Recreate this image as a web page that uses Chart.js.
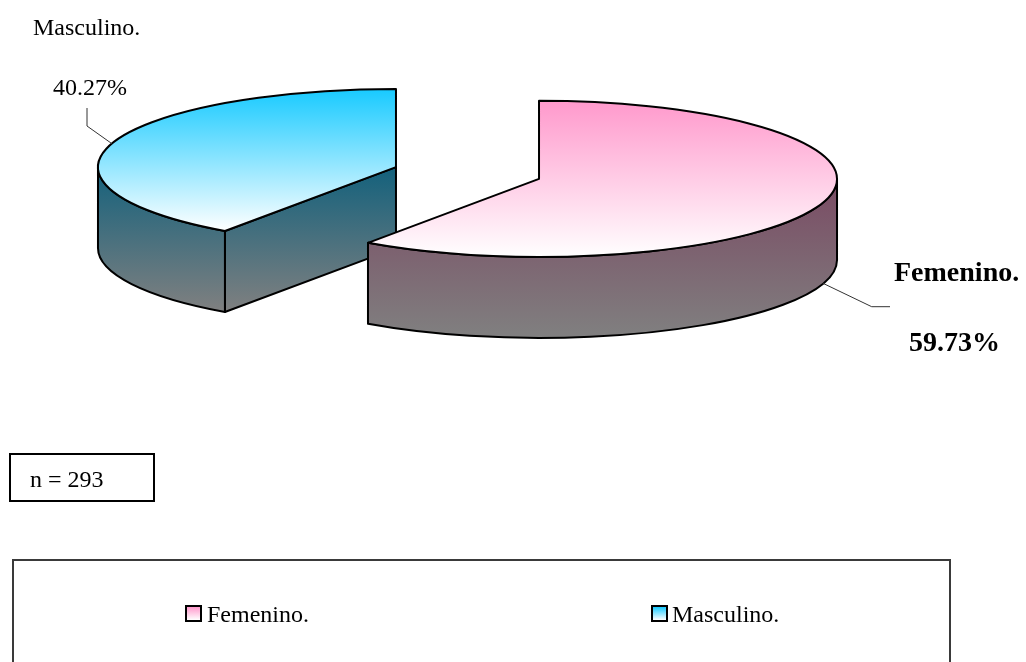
<!DOCTYPE html>
<html>
<head>
<meta charset="utf-8">
<script src="https://cdn.jsdelivr.net/npm/chart.js@4.4.1/dist/chart.umd.min.js"></script>
<style>
html,body{margin:0;padding:0;background:#fff;overflow:hidden;}
#wrap{position:relative;width:1026px;height:662px;overflow:hidden;font-family:"Liberation Serif","Times New Roman",serif;color:#000;}
#c{position:absolute;left:0;top:0;}
.t{position:absolute;white-space:nowrap;line-height:1;}
.b{font-weight:bold;}
#nbox{position:absolute;left:9px;top:453px;width:146px;height:49px;border:2px solid #000;box-sizing:border-box;}
#legbox{position:absolute;left:12px;top:559px;width:939px;height:130px;border:2px solid #3a3a3a;box-sizing:border-box;}
.mk{position:absolute;width:17px;height:17px;border:2px solid #000;box-sizing:border-box;}
</style>
</head>
<body>
<div id="wrap">
  <canvas id="c" width="1026" height="662"></canvas>
  <div class="t" id="title" style="left:33px;top:15px;font-size:24px;"></div>
  <div class="t" id="lblM" style="left:53px;top:75.4px;font-size:24px;"></div>
  <div class="t b" id="lblFname" style="left:894px;top:258px;font-size:28px;"></div>
  <div class="t b" id="lblFpct" style="left:909px;top:328px;font-size:28px;"></div>
  <div id="nbox"></div>
  <div class="t" id="ntext" style="left:30px;top:467.2px;font-size:24px;"></div>
  <div id="legbox"></div>
  <div class="mk" id="mk0" style="left:185px;top:605px;"></div>
  <div class="t" id="leg0" style="left:207px;top:601.6px;font-size:24px;"></div>
  <div class="mk" id="mk1" style="left:651px;top:605px;"></div>
  <div class="t" id="leg1" style="left:672px;top:601.6px;font-size:24px;"></div>
</div>
<script>
// ---- data ----
const categories = ['Femenino.', 'Masculino.'];
const values = [59.73, 40.27];
const sampleSize = 293;
const chartTitle = 'Masculino.';

// ---- styles ----
const topColors = ['#FF99CC', '#18CAFF'];
const sideColors = ['#7A4A63', '#13617C'];

const pct = v => v.toFixed(2) + '%';
document.getElementById('title').textContent = chartTitle;
document.getElementById('lblM').textContent = pct(values[1]);
document.getElementById('lblFname').textContent = categories[0];
document.getElementById('lblFpct').textContent = pct(values[0]);
document.getElementById('ntext').textContent = 'n = ' + sampleSize;
document.getElementById('leg0').textContent = categories[0];
document.getElementById('leg1').textContent = categories[1];
document.getElementById('mk0').style.background = 'linear-gradient(' + topColors[0] + ', #ffffff)';
document.getElementById('mk1').style.background = 'linear-gradient(' + topColors[1] + ', #ffffff)';

const pie3d = {
  id: 'pie3d',
  beforeDatasetsDraw(chart, args, opts) {
    const ctx = chart.ctx, meta = chart.getDatasetMeta(0);
    const k = opts.tilt, D = opts.depth;
    const S = meta.data.map((el, i) => {
      const p = el.getProps(['x', 'y', 'startAngle', 'endAngle', 'outerRadius'], true);
      const mid = (p.startAngle + p.endAngle) / 2;
      const off = el.options.offset || 0;
      return { i, R: p.outerRadius, ry: p.outerRadius * k, a0: p.startAngle, a1: p.endAngle, mid,
        cx: p.x + Math.cos(mid) * off, cy: p.y + Math.sin(mid) * off * k };
    });
    chart.$pie3d = S;
    const order = S.slice().sort((a, b) => Math.sin(a.mid) - Math.sin(b.mid));
    ctx.save();
    ctx.lineWidth = opts.lineWidth; ctx.strokeStyle = '#000'; ctx.lineJoin = 'round';
    order.forEach(s => {
      const walls = [];
      [-2 * Math.PI, 0, 2 * Math.PI].forEach(b => {
        const lo = Math.max(s.a0, b), hi = Math.min(s.a1, b + Math.PI);
        if (hi > lo + 1e-6) walls.push([lo, hi]);
      });
      const cuts = [];
      if (Math.cos(s.a0) < -1e-3) cuts.push(s.a0);
      if (Math.cos(s.a1) > 1e-3) cuts.push(s.a1);
      let yMin = Infinity, yMax = -Infinity;
      const acc = y => { yMin = Math.min(yMin, y); yMax = Math.max(yMax, y); };
      cuts.forEach(a => { acc(s.cy); acc(s.cy + s.ry * Math.sin(a) + D); });
      walls.forEach(([lo, hi]) => {
        for (let j = 0; j <= 40; j++) {
          const t = lo + (hi - lo) * j / 40;
          acc(s.cy + s.ry * Math.sin(t)); acc(s.cy + s.ry * Math.sin(t) + D);
        }
      });
      const sg = ctx.createLinearGradient(0, yMin, 0, yMax);
      sg.addColorStop(0, opts.sideColors[s.i]); sg.addColorStop(1, opts.sideBottom);
      cuts.forEach(a => {
        const x = s.cx + s.R * Math.cos(a), y = s.cy + s.ry * Math.sin(a);
        ctx.beginPath(); ctx.moveTo(s.cx, s.cy); ctx.lineTo(x, y); ctx.lineTo(x, y + D); ctx.lineTo(s.cx, s.cy + D); ctx.closePath();
        ctx.fillStyle = sg; ctx.fill(); ctx.stroke();
      });
      walls.forEach(([lo, hi]) => {
        ctx.beginPath();
        ctx.ellipse(s.cx, s.cy, s.R, s.ry, 0, lo, hi, false);
        ctx.ellipse(s.cx, s.cy + D, s.R, s.ry, 0, hi, lo, true);
        ctx.closePath(); ctx.fillStyle = sg; ctx.fill(); ctx.stroke();
      });
      let tMin = s.cy, tMax = s.cy;
      for (let j = 0; j <= 80; j++) {
        const t = s.a0 + (s.a1 - s.a0) * j / 80;
        const y = s.cy + s.ry * Math.sin(t);
        tMin = Math.min(tMin, y); tMax = Math.max(tMax, y);
      }
      const tg = ctx.createLinearGradient(0, tMin, 0, tMax);
      tg.addColorStop(0, opts.topColors[s.i]); tg.addColorStop(1, opts.topBottom);
      ctx.beginPath(); ctx.moveTo(s.cx, s.cy);
      ctx.ellipse(s.cx, s.cy, s.R, s.ry, 0, s.a0, s.a1, false);
      ctx.closePath(); ctx.fillStyle = tg; ctx.fill(); ctx.stroke();
    });
    ctx.restore();
    return false;
  },
  afterDraw(chart, args, opts) {
    const S = chart.$pie3d; if (!S) return;
    const ctx = chart.ctx;
    ctx.save();
    ctx.strokeStyle = '#333'; ctx.lineWidth = 1;
    opts.leaders.forEach((L, i) => {
      const s = S[i];
      const x = s.cx + s.R * Math.cos(s.mid);
      const y = s.cy + s.ry * Math.sin(s.mid) + (L.anchor === 'bottom' ? opts.depth : 0);
      ctx.beginPath(); ctx.moveTo(x, y);
      L.points.forEach(p => ctx.lineTo(p[0], p[1]));
      ctx.stroke();
    });
    ctx.restore();
  }
};

new Chart(document.getElementById('c'), {
  type: 'pie',
  data: {
    labels: categories,
    datasets: [{
      data: values,
      offset: [75, 75],
      radius: 298,
      backgroundColor: topColors,
      borderColor: '#000',
      borderWidth: 2
    }]
  },
  options: {
    responsive: false,
    animation: false,
    events: [],
    layout: { padding: { left: 0, right: 91, top: 0, bottom: 316 } },
    plugins: {
      legend: { display: false },
      tooltip: { enabled: false },
      pie3d: {
        tilt: 0.262,
        depth: 81,
        lineWidth: 2,
        topColors: topColors,
        topBottom: '#FFFFFF',
        sideColors: sideColors,
        sideBottom: '#808080',
        leaders: [
          { anchor: 'bottom', points: [[871.7, 306.7], [890, 306.7]] },
          { anchor: 'top', points: [[87, 126], [87, 108]] }
        ]
      }
    }
  },
  plugins: [pie3d]
});
</script>
</body>
</html>
